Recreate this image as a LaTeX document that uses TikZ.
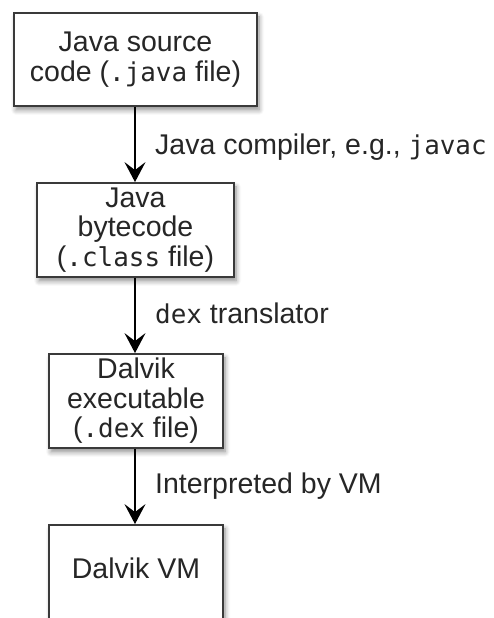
\documentclass[tikz,border=0pt]{standalone}
\usepackage{fontspec}
\setmainfont{Liberation Sans}
\setmonofont{DejaVu Sans Mono}[Scale=0.91]
\usetikzlibrary{arrows.meta,shadows.blur}
\definecolor{txt}{HTML}{262626}
\definecolor{bord}{HTML}{3A3A3A}
\tikzset{
  boxnode/.style={draw=bord, line width=1.8pt, fill=white, align=center, text=txt,
    font=\fontsize{28.5}{29.5}\selectfont, inner sep=0pt,
    blur shadow={shadow xshift=2pt, shadow yshift=-4pt, shadow blur steps=6, shadow blur radius=5pt, shadow opacity=45}},
  boxtext/.style={text=txt, font=\fontsize{28.5}{29.5}\selectfont, inner sep=0pt},
  arr/.style={line width=1.3pt, draw=black, -{Stealth[length=20pt, width=21pt, inset=8pt]}},
  lbl/.style={anchor=base west, text=txt, font=\fontsize{28.5}{30}\selectfont, inner sep=0pt}
}
\begin{document}
\begin{tikzpicture}[x=1pt,y=1pt]
\useasboundingbox (0,0) rectangle (494,618);
\node[boxnode, minimum width=243pt, minimum height=93pt] (a) at (135.5,558.5) {Java source\\code (\texttt{.java} file)};
\node[boxnode, minimum width=197pt, minimum height=94pt] (b) at (135.5,388) {Java\\bytecode\\(\texttt{.class} file)};
\node[boxnode, minimum width=174pt, minimum height=94pt] (c) at (136,217) {Dalvik\\executable\\(\texttt{.dex} file)};
\node[boxnode, minimum width=174pt, minimum height=100pt] (d) at (136,43) {};
\node[boxtext, anchor=base] (dt) at (136,39) {Dalvik VM};
\draw[arr] (a.south -| 135,0) -- (b.north -| 135,0);
\draw[arr] (b.south -| 135,0) -- (c.north -| 135,0);
\draw[arr] (c.south -| 135,0) -- (d.north -| 135,0);
\node[lbl] (la) at (155,463) {Java compiler, e.g., \texttt{javac}};
\node[lbl] (lb) at (155,294) {\texttt{dex} translator};
\node[lbl] (lc) at (155,124) {Interpreted by VM};
\end{tikzpicture}
\end{document}
